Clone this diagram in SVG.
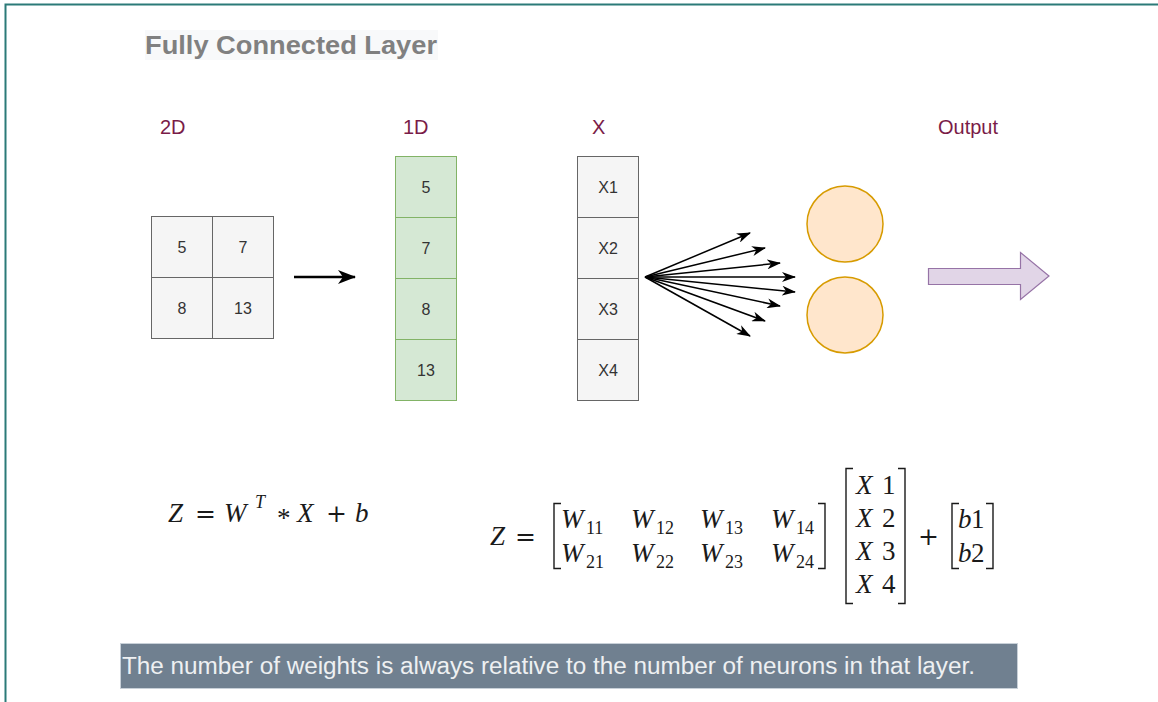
<svg xmlns="http://www.w3.org/2000/svg" width="1158" height="702" viewBox="0 0 1158 702">
<defs>
<style>
.cell{fill:#f5f5f5;stroke:#666666;stroke-width:1}
.gcell{fill:#d5e8d4;stroke:#82b366;stroke-width:1}
.ct{font-family:"Liberation Sans",Arial,sans-serif;font-size:16px;fill:#333333;text-anchor:middle}
.lbl{font-family:"Liberation Sans",Arial,sans-serif;font-size:20px;fill:#7a1c48}
.m{font-family:"Liberation Serif","Times New Roman",serif;font-size:27px;fill:#1a1a1a}
.mi{font-style:italic}
.op{font-family:"DejaVu Serif",serif;font-size:25px;fill:#1a1a1a}
.sub{font-family:"Liberation Serif","Times New Roman",serif;font-size:18px;fill:#1a1a1a}
.br{fill:none;stroke:#1a1a1a;stroke-width:1.4}
.conn{stroke:#000;fill:none}
</style>
<marker id="ah" markerWidth="14" markerHeight="10" refX="13" refY="5" orient="auto" markerUnits="userSpaceOnUse">
<path d="M0,0 L14,5 L0,10 L4,5 Z" fill="#000"/>
</marker>
<marker id="ah2" markerWidth="18" markerHeight="14" refX="17" refY="7" orient="auto" markerUnits="userSpaceOnUse">
<path d="M0,0 L18,7 L0,14 L5,7 Z" fill="#000"/>
</marker>
</defs>
<rect width="1158" height="702" fill="#ffffff"/>
<path d="M5.5,702 V4.5 H1158" fill="none" stroke="#2b7a78" stroke-width="2"/>

<g id="title">
<rect x="145" y="30" width="293" height="30" fill="#f8f9fa"/>
<text x="145" y="54" font-family="'Liberation Sans',Arial,sans-serif" font-size="26" font-weight="bold" fill="#808080" textLength="292" lengthAdjust="spacingAndGlyphs">Fully Connected Layer</text>
</g>

<g id="labels">
<text class="lbl" x="160" y="134">2D</text>
<text class="lbl" x="403" y="134">1D</text>
<text class="lbl" x="592" y="134">X</text>
<text class="lbl" x="938" y="134">Output</text>
</g>

<g id="grid2d">
<rect class="cell" x="151.5" y="216.5" width="61" height="61"/>
<rect class="cell" x="212.5" y="216.5" width="61" height="61"/>
<rect class="cell" x="151.5" y="277.5" width="61" height="61"/>
<rect class="cell" x="212.5" y="277.5" width="61" height="61"/>
<text class="ct" x="182" y="253">5</text>
<text class="ct" x="243" y="253">7</text>
<text class="ct" x="182" y="314">8</text>
<text class="ct" x="243" y="314">13</text>
</g>

<g id="col1d">
<rect class="gcell" x="395.5" y="156.5" width="61" height="61"/>
<rect class="gcell" x="395.5" y="217.5" width="61" height="61"/>
<rect class="gcell" x="395.5" y="278.5" width="61" height="61"/>
<rect class="gcell" x="395.5" y="339.5" width="61" height="61"/>
<text class="ct" x="426" y="193">5</text>
<text class="ct" x="426" y="254">7</text>
<text class="ct" x="426" y="315">8</text>
<text class="ct" x="426" y="376">13</text>
</g>

<g id="colx">
<rect class="cell" x="577.5" y="156.5" width="61" height="61"/>
<rect class="cell" x="577.5" y="217.5" width="61" height="61"/>
<rect class="cell" x="577.5" y="278.5" width="61" height="61"/>
<rect class="cell" x="577.5" y="339.5" width="61" height="61"/>
<text class="ct" x="608" y="193">X1</text>
<text class="ct" x="608" y="254">X2</text>
<text class="ct" x="608" y="315">X3</text>
<text class="ct" x="608" y="376">X4</text>
</g>

<g id="neuron1"><circle cx="845" cy="224" r="38" fill="#ffe6cc" stroke="#d79b00" stroke-width="1.5"/></g>
<g id="neuron2"><circle cx="845" cy="315" r="38" fill="#ffe6cc" stroke="#d79b00" stroke-width="1.5"/></g>

<g id="outarrow">
<path d="M928.5,268.5 H1020.5 V252.5 L1049,276 L1020.5,299.5 V284.5 H928.5 Z" fill="#e1d5e7" stroke="#9673a6" stroke-width="1.2"/>
</g>

<g id="connectors">
<line class="conn" x1="294" y1="277" x2="355" y2="277" stroke-width="2.5" marker-end="url(#ah2)"/>
<line class="conn" x1="645" y1="277" x2="750" y2="233" stroke-width="1.5" marker-end="url(#ah)"/>
<line class="conn" x1="645" y1="277" x2="765" y2="248" stroke-width="1.5" marker-end="url(#ah)"/>
<line class="conn" x1="645" y1="277" x2="780" y2="263" stroke-width="1.5" marker-end="url(#ah)"/>
<line class="conn" x1="645" y1="277" x2="795" y2="277" stroke-width="1.5" marker-end="url(#ah)"/>
<line class="conn" x1="645" y1="277" x2="795" y2="292" stroke-width="1.5" marker-end="url(#ah)"/>
<line class="conn" x1="645" y1="277" x2="780" y2="306" stroke-width="1.5" marker-end="url(#ah)"/>
<line class="conn" x1="645" y1="277" x2="765" y2="321" stroke-width="1.5" marker-end="url(#ah)"/>
<line class="conn" x1="645" y1="277" x2="750" y2="336" stroke-width="1.5" marker-end="url(#ah)"/>
</g>

<g id="formula1">
<text class="m mi" x="168" y="522">Z</text>
<text class="op" x="195" y="522">=</text>
<text class="m mi" x="224" y="522">W</text>
<text class="sub mi" x="255" y="508">T</text>
<text class="m" x="277" y="527">*</text>
<text class="m mi" x="297" y="522">X</text>
<text class="op" x="326" y="522">+</text>
<text class="m mi" x="355" y="522">b</text>
</g>

<g id="formula2">
<text class="m mi" x="490" y="545">Z</text>
<text class="op" x="515" y="545">=</text>
<path class="br" d="M561,503.5 H554 V568.5 H561"/>
<path class="br" d="M818,503.5 H825 V568.5 H818"/>
<text class="m mi" x="561" y="528">W</text><text class="sub" x="586" y="534">11</text>
<text class="m mi" x="631" y="528">W</text><text class="sub" x="656" y="534">12</text>
<text class="m mi" x="700" y="528">W</text><text class="sub" x="725" y="534">13</text>
<text class="m mi" x="771" y="528">W</text><text class="sub" x="796" y="534">14</text>
<text class="m mi" x="561" y="562">W</text><text class="sub" x="586" y="568">21</text>
<text class="m mi" x="631" y="562">W</text><text class="sub" x="656" y="568">22</text>
<text class="m mi" x="700" y="562">W</text><text class="sub" x="725" y="568">23</text>
<text class="m mi" x="771" y="562">W</text><text class="sub" x="796" y="568">24</text>
<path class="br" d="M853,468.5 H846 V603.5 H853"/>
<path class="br" d="M898,468.5 H905 V603.5 H898"/>
<text class="m mi" x="856" y="494">X</text><text class="m" x="882" y="494">1</text>
<text class="m mi" x="856" y="527">X</text><text class="m" x="882" y="527">2</text>
<text class="m mi" x="856" y="560">X</text><text class="m" x="882" y="560">3</text>
<text class="m mi" x="856" y="593">X</text><text class="m" x="882" y="593">4</text>
<text class="op" x="918" y="545">+</text>
<path class="br" d="M959,503.5 H952 V568.5 H959"/>
<path class="br" d="M986,503.5 H993 V568.5 H986"/>
<text class="m mi" x="958" y="528">b</text><text class="m" x="971" y="528">1</text>
<text class="m mi" x="958" y="562">b</text><text class="m" x="971" y="562">2</text>
</g>

<g id="note">
<rect x="120.5" y="643.5" width="897" height="45" fill="#708090" stroke="#c8d0d8" stroke-width="1"/>
<text x="122" y="674" font-family="'Liberation Sans',Arial,sans-serif" font-size="23" fill="#eef0f2" textLength="853" lengthAdjust="spacingAndGlyphs">The number of weights is always relative to the number of neurons in that layer.</text>
</g>
</svg>
